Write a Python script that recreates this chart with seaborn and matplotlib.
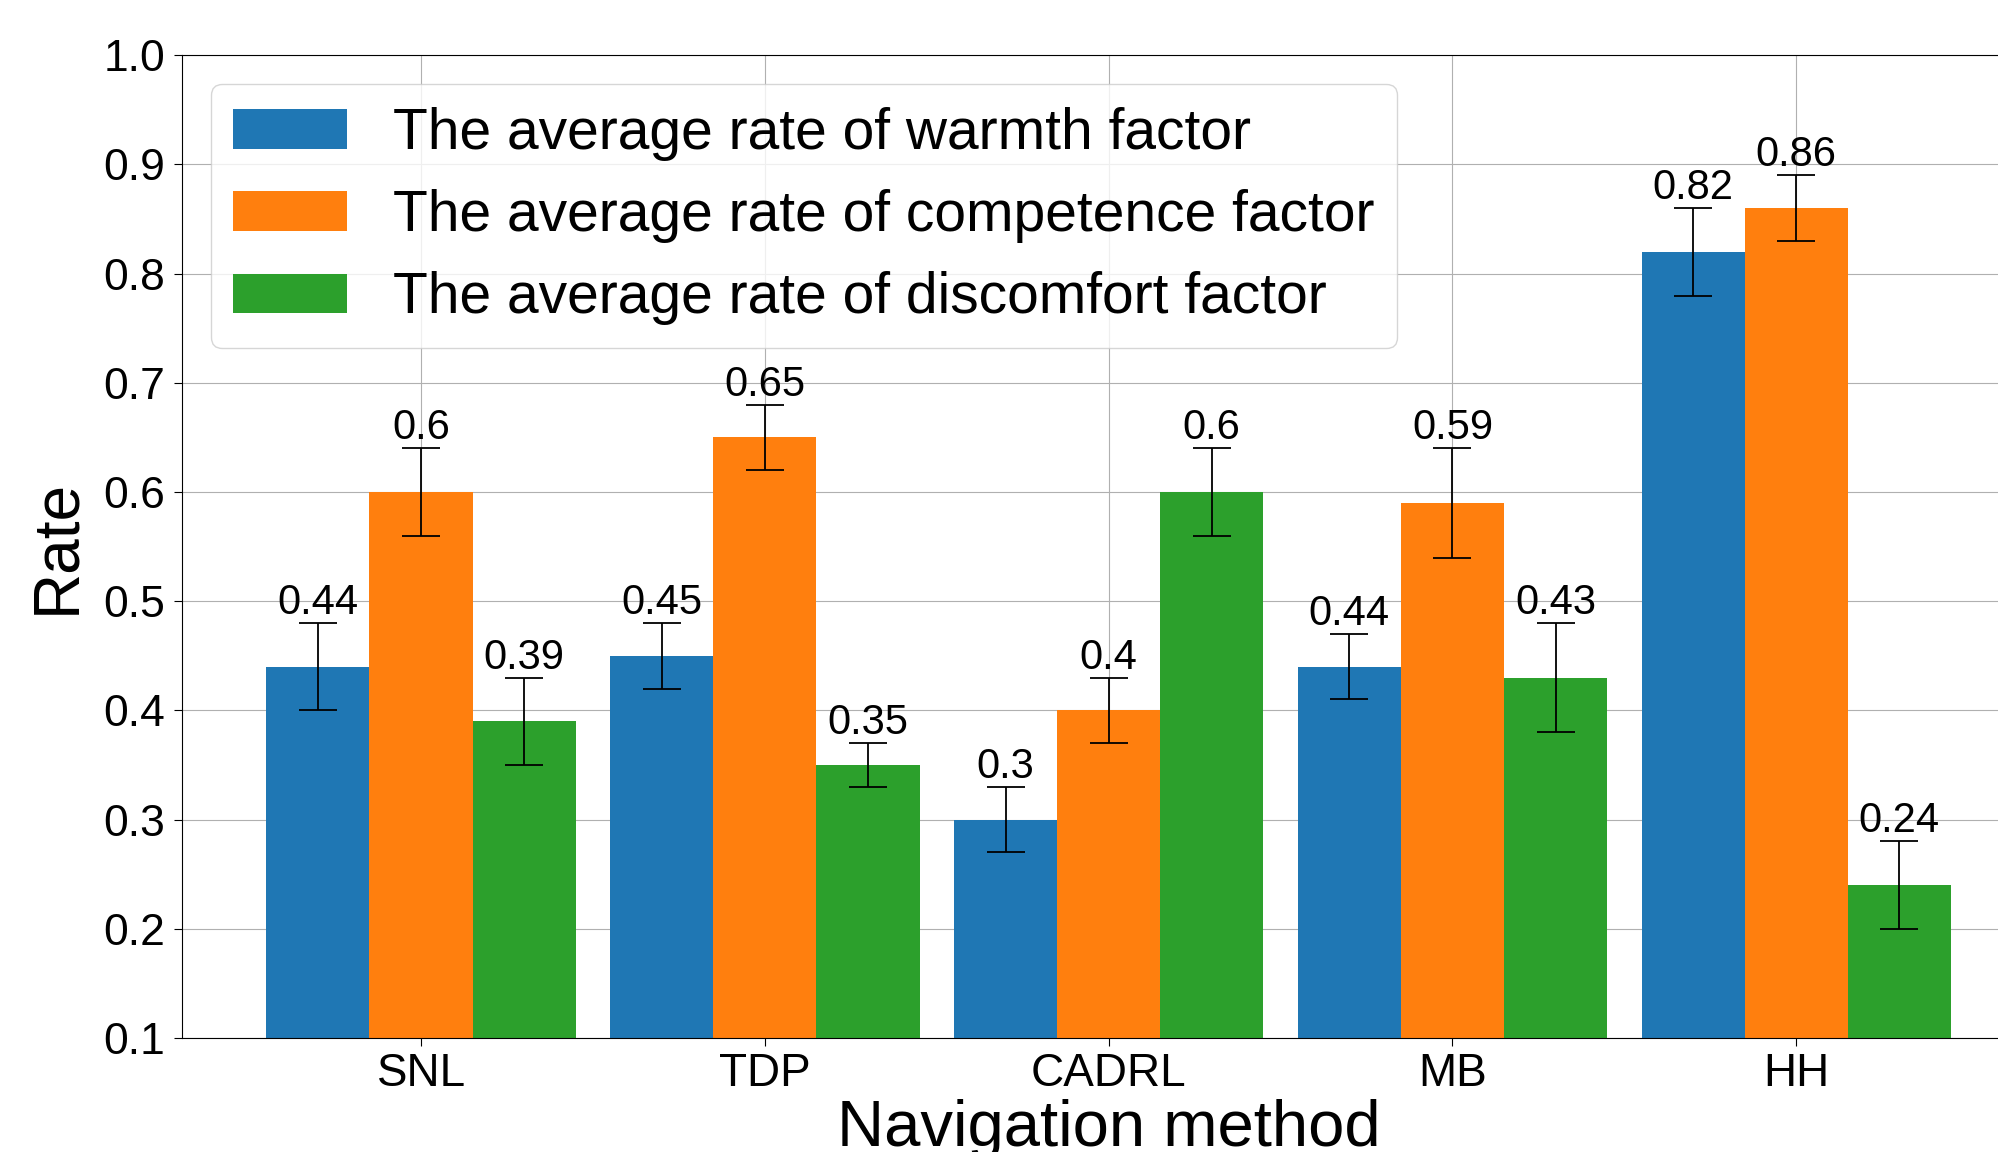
import numpy as np
import pandas as pd
import matplotlib
matplotlib.use("Agg")
import matplotlib.pyplot as plt
import seaborn as sns

# Dados
metodos = ["SNL", "TDP", "CADRL", "MB", "HH"]
fatores = ["The average rate of warmth factor",
           "The average rate of competence factor",
           "The average rate of discomfort factor"]
warmth = [0.44, 0.45, 0.30, 0.44, 0.82]
competence = [0.60, 0.65, 0.40, 0.59, 0.86]
discomfort = [0.39, 0.35, 0.60, 0.43, 0.24]
erro_warmth = [0.04, 0.03, 0.03, 0.03, 0.04]
erro_competence = [0.04, 0.03, 0.03, 0.05, 0.03]
erro_discomfort = [0.04, 0.02, 0.04, 0.05, 0.04]
cores = ["#1f77b4", "#ff7f0e", "#2ca02c"]

valores = [warmth, competence, discomfort]
erros = [erro_warmth, erro_competence, erro_discomfort]

df = pd.DataFrame({
    "metodo": metodos * 3,
    "fator": [f for f in fatores for _ in metodos],
    "rate": warmth + competence + discomfort,
})

plt.rcParams['font.family'] = ['Liberation Sans', 'DejaVu Sans']

fig = plt.figure(figsize=(19.99, 11.52), dpi=100)
ax = fig.add_axes([0.0911, 0.099, 0.927, 0.853])

sns.barplot(data=df, x="metodo", y="rate", hue="fator", order=metodos,
            hue_order=fatores, palette=cores, saturation=1, width=0.9,
            errorbar=None, ax=ax)

# Barras de erro e rotulos com os valores
for container, errs in zip(ax.containers, erros):
    for barra, e in zip(container, errs):
        x = barra.get_x() + barra.get_width() / 2
        h = barra.get_height()
        ax.errorbar(x, h, yerr=e, fmt="none", ecolor="black",
                    elinewidth=1.3, capsize=14, capthick=1.3, zorder=3)
        ax.text(x, h + e, f"{h:g}", ha="center", va="bottom", fontsize=30)

ax.set_xlim(-0.695, 4.695)
ax.set_ylim(0.1, 1.0)
ax.set_yticks(np.arange(0.1, 1.01, 0.1))
ax.set_yticklabels([f"{t:.1f}" for t in np.arange(0.1, 1.01, 0.1)])
ax.tick_params(axis="y", labelsize=32, length=6, pad=6)
ax.tick_params(axis="x", labelsize=33, length=6, pad=4)
ax.set_xlabel("Navigation method", fontsize=47, labelpad=2)
ax.set_ylabel("Rate", fontsize=46, labelpad=12)
ax.grid(True)
ax.set_axisbelow(True)

sns.move_legend(ax, "upper left", title=None, fontsize=41, labelspacing=0.5)

fig.savefig("out.png", dpi=100)
